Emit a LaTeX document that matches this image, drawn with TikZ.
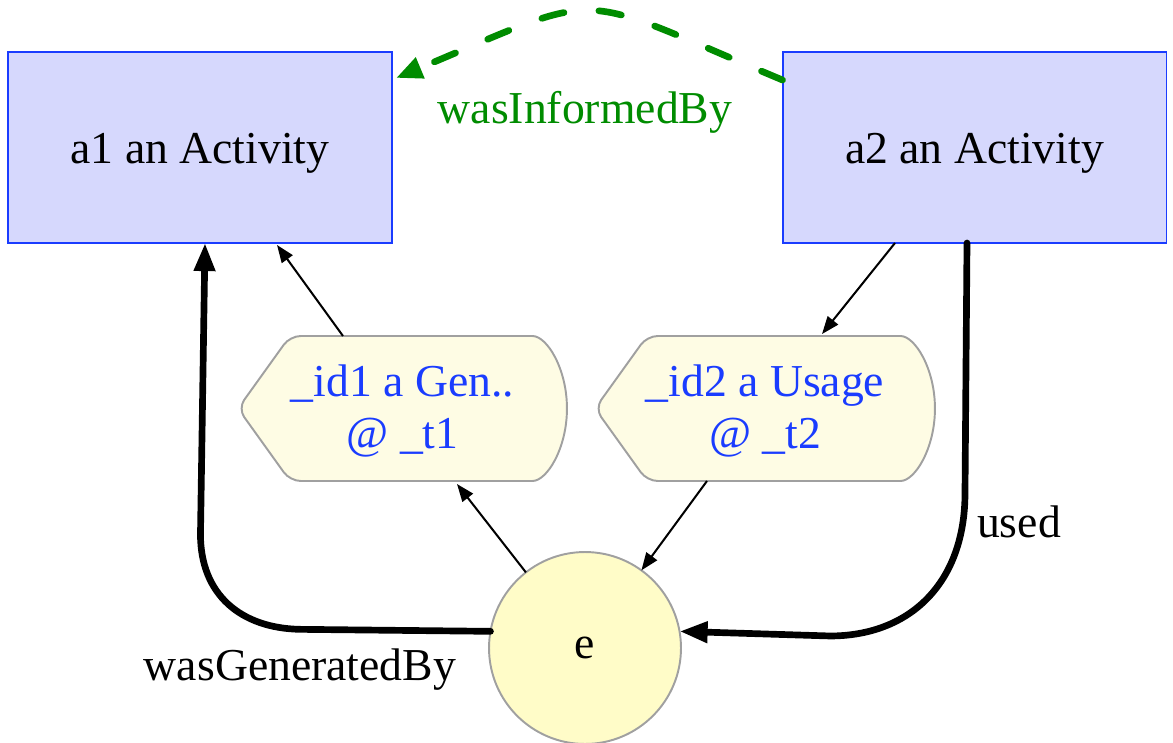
\documentclass[tikz,border=0pt]{standalone}
\usepackage{fontspec}
\setmainfont{Liberation Serif}
\usetikzlibrary{arrows.meta,calc,backgrounds}
\definecolor{actfill}{RGB}{214,216,253}
\definecolor{actdraw}{RGB}{26,60,255}
\definecolor{txtblue}{RGB}{26,60,255}
\definecolor{genfill}{RGB}{254,252,228}
\definecolor{entfill}{RGB}{255,252,200}
\definecolor{graybd}{RGB}{160,160,160}
\definecolor{infgreen}{RGB}{0,140,0}
\newcommand\qualshape[1]{%
  \draw[qualline] ($(#1.north west)+(52,0)$) -- ($(#1.north east)+(-45,0)$)
    arc[start angle=90,end angle=-90,x radius=0.9cm,y radius=1.45cm]
    -- ($(#1.south west)+(52,0)$) -- (#1.west) -- cycle;}
\begin{document}
\begin{tikzpicture}[x=0.02cm,y=-0.02cm,
  every node/.style={font=\fontsize{26}{29.5}\selectfont},
  activity/.style={draw=actdraw,fill=actfill,line width=1.1pt,minimum width=7.68cm,
    minimum height=3.82cm,inner sep=0pt,outer sep=0pt,text height=18.7pt,text depth=0pt},
  entity/.style={draw=graybd,fill=entfill,line width=1.1pt,circle,minimum size=3.84cm,
    inner sep=0pt,outer sep=0pt},
  qual/.style={minimum height=2.9cm,inner sep=0pt,outer sep=0pt,text=txtblue,align=center},
  qualline/.style={draw=graybd,fill=genfill,line width=1.1pt,rounded corners=6pt},
  thin/.style={line width=1.15pt,-{Triangle[length=10pt,width=7.5pt]}},
  thick/.style={line width=3.8pt,line cap=round,-{Triangle[length=16pt,width=11.5pt]}},
  informed/.style={draw=infgreen,line width=3.8pt,line cap=round,dash pattern=on 13pt off 20pt,
    -{Triangle[length=15pt,width=12pt]}},
  lbl/.style={inner sep=0pt}
]
\useasboundingbox (0,0) rectangle (1173,743);

\node[activity] (a1) at (200,147.5) {a1 an Activity};
\node[activity] (a2) at (974.5,147.5) {a2 an Activity};
\node[qual,minimum width=6.58cm] (id1) at (402.5,408.5) {\strut\_id1 a Gen..\\@ \_t1};
\node[qual,minimum width=6.8cm] (id2) at (765,408.5) {\strut\_id2 a Usage\\@ \_t2};
\node[entity] (e) at (585,648) {e};

\begin{scope}[on background layer]
  \qualshape{id1}
  \qualshape{id2}
\end{scope}

% wasInformedBy
\draw[informed] ($(a2.north west)+(0,28)$) .. controls +(-215,-90) and +(215,-90) .. ($(a1.north east)+(4,26)$);
\node[lbl,text=infgreen] (lInf) at (585,112) {wasInformedBy};

% wasGeneratedBy
\draw[thick] (e.170) -- ++(-190,-2) .. controls +(-60,-1) and +(0,60) .. ++(-100,-95)
  -- ($(a1.south)+(5,0)$);
\node[lbl] (lGen) at (300,670) {wasGeneratedBy};

% used
\draw[thick] ($(a2.south)+(-7.5,0)$) -- ++(-2,250) .. controls +(0,90) and +(80,0) .. ++(-135,143)
  -- (e.10);
\node[lbl] (lUsed) at (1019,522) {used};

% qualified links
\draw[thin] ($(id1.north)+(-59.5,0)$) -- ($(a1.south)+(77,2)$);
\draw[thin] ($(a2.south)+(-79.5,0)$) -- ($(id2.north)+(57,-2)$);
\draw[thin] (e.128) -- ($(id1.south)+(54.5,3)$);
\draw[thin] ($(id2.south)+(-58,0)$) -- (e.54);
\end{tikzpicture}
\end{document}
